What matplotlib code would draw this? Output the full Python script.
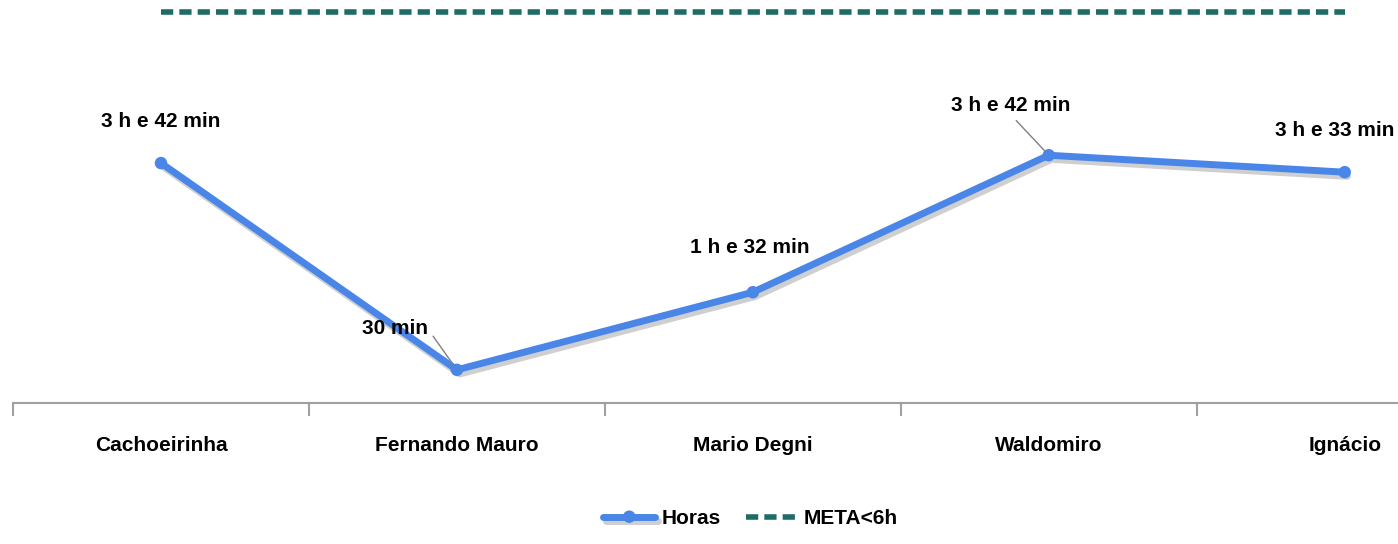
import numpy as np
import matplotlib.pyplot as plt
import matplotlib.patheffects as pe

plt.rcParams['font.family'] = ['Liberation Sans Narrow', 'Liberation Sans', 'DejaVu Sans']
plt.rcParams['font.weight'] = 'bold'

# dados
unidades = ["Cachoeirinha", "Fernando Mauro", "Mario Degni", "Waldomiro", "Ignácio"]
horas = [3.68, 0.51, 1.70, 3.80, 3.54]
rotulos = ["3 h e 42 min", "30 min", "1 h e 32 min", "3 h e 42 min", "3 h e 33 min"]
meta = [6, 6, 6, 6, 6]

fig = plt.figure(figsize=(13.98, 5.44), dpi=100)
ax = fig.add_axes([0.0093, 0.259, 0.9907, 0.741])

x = np.arange(len(unidades))
sombra = [pe.SimpleLineShadow(offset=(2, -3), alpha=0.35, shadow_color='#777777'), pe.Normal()]
ax.plot(x, horas, color='#4a86e8', lw=5, marker='o', ms=9, mew=0, solid_capstyle='round',
        label='Horas', path_effects=sombra, zorder=3)
ax.plot(x, meta, color='#1f6b66', lw=4, ls=(0, (2.2, 1.1)), label='META<6h', zorder=2)

# rótulos dos pontos
desloc = [(0, 42), (-62, 41), (-3, 45), (-38, 50), (50, 42)]
alinh = ['center', 'center', 'center', 'center', 'right']
for i, (v, t) in enumerate(zip(horas, rotulos)):
    dx, dy = desloc[i]
    if i in (1, 3):
        ax.annotate(t, (x[i], v), xytext=(dx, dy), textcoords='offset pixels',
                    ha=alinh[i], va='center', fontsize=15, fontweight='bold',
                    arrowprops=dict(arrowstyle='-', color='gray', lw=1,
                                    shrinkA=3, shrinkB=4,
                                    relpos=(1.0, 0.5) if i == 1 else (0.5, 0.0)))
    else:
        ax.annotate(t, (x[i], v), xytext=(dx, dy), textcoords='offset pixels',
                    ha=alinh[i], va='center', fontsize=15, fontweight='bold')

ax.set_yticks([])
for s in ['top', 'left', 'right']:
    ax.spines[s].set_visible(False)
ax.spines['bottom'].set_color('#a0a0a0')
ax.spines['bottom'].set_linewidth(1.5)

ax.set_xticks(x)
ax.set_xticklabels(unidades, fontsize=15, fontweight='bold')
ax.tick_params(axis='x', which='major', length=0, pad=24)
ax.set_xticks(np.arange(-0.5, 4.6, 1), minor=True)
ax.tick_params(axis='x', which='minor', length=9, width=1.5, color='#a0a0a0', direction='out')
ax.set_xlim(-0.5, 4.18)
ax.set_ylim(0, 6.18)

leg = fig.legend(loc='lower center', bbox_to_anchor=(0.537, -0.005), ncol=2, frameon=False,
                 fontsize=15, handlelength=2.5, columnspacing=1.2, handletextpad=0.3)

plt.savefig('out.png', dpi=100)
